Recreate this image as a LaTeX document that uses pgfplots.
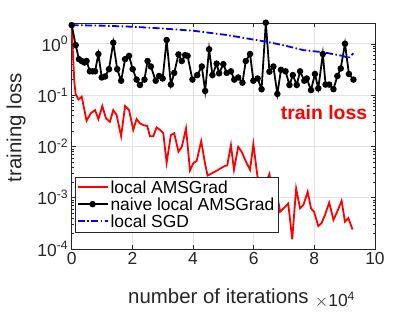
\documentclass[border=0pt]{standalone}
\usepackage{pgfplots}
\pgfplotsset{compat=1.18}
\usepackage{fontspec}
\setmainfont{Liberation Sans}
\definecolor{axgray}{gray}{0.15}
\begin{document}
\begin{tikzpicture}
\useasboundingbox (-71.7bp,-63bp) rectangle (343.3bp,249bp);
\begin{axis}[
  scale only axis,
  clip=false,
  width=303.3bp, height=225.7bp,
  ymode=log,
  xmin=0, xmax=10, ymin=1e-4, ymax=2.5,
  xtick={0,2,4,6,8,10},
  ytick={1e-4,1e-3,1e-2,1e-1,1},
  yticklabels={10\textsuperscript{-4},10\textsuperscript{-3},10\textsuperscript{-2},10\textsuperscript{-1},10\textsuperscript{0}},
  /pgf/number format/assume math mode=true,
  tick label style={font=\fontsize{17.5}{20}\selectfont, text=axgray},
  label style={font=\fontsize{20.5}{24}\selectfont, text=axgray},
  axis line style={axgray},
  every tick/.style={axgray},
  major tick length=4bp, minor tick length=2.2bp,
  grid=major,
  major grid style={gray!22, line width=0.5bp},
  xlabel={number of iterations},
  ylabel={training loss},
  xlabel style={at={(axis description cs:0.484,-0.208)}, anchor=center},
  ylabel style={at={(axis description cs:-0.1836,0.538)}, anchor=center},
  legend style={at={(rel axis cs:0.011,0.320)}, anchor=north west,
    font=\fontsize{17.5}{21}\selectfont, draw=axgray, fill=white,
    inner sep=1.5bp, row sep=-1bp},
  legend cell align=left,
  legend image code/.code={\draw[mark repeat=2,mark phase=2,#1,line width=1.8bp] plot coordinates {(0bp,0.5bp) (15bp,0.5bp) (30bp,0.5bp)};},
]
% local AMSGrad
\addplot[red, line width=1.8bp] coordinates {
(0,2.3) (0.04,0.65) (0.09,0.17) (0.13,0.105) (0.22,0.082) (0.33,0.093)
(0.49,0.0316) (0.63,0.044) (0.77,0.051) (0.88,0.034) (1.01,0.061) (1.13,0.035)
(1.26,0.030) (1.37,0.051) (1.48,0.041) (1.63,0.0158) (1.76,0.061) (1.89,0.051)
(2.03,0.021) (2.14,0.034) (2.25,0.028) (2.36,0.026) (2.49,0.0249) (2.58,0.0158)
(2.69,0.0158) (2.80,0.0234) (2.91,0.021) (3.02,0.018) (3.13,0.0048) (3.27,0.0166)
(3.38,0.018) (3.52,0.0079) (3.63,0.0098) (3.77,0.0224) (3.90,0.0034) (4.01,0.0047)
(4.12,0.0052) (4.27,0.0126) (4.40,0.0045) (4.48,0.0027) (4.72,0.0032) (5.00,0.0040)
(5.13,0.0043) (5.25,0.0106) (5.35,0.0035) (5.49,0.0098) (5.60,0.0079) (5.77,0.0047)
(5.88,0.0035) (5.99,0.0111) (6.12,0.0027) (6.25,0.0012) (6.38,0.0018) (6.52,0.0029)
(6.65,0.0009) (6.78,0.0011) (6.87,0.00053) (7.14,0.00077) (7.27,0.000155) (7.40,0.0015)
(7.53,0.00062) (7.64,0.00072) (7.78,0.0013) (7.89,0.00062) (7.99,0.00053) (8.13,0.00028)
(8.24,0.00032) (8.35,0.00046) (8.49,0.00080) (8.63,0.00037) (8.74,0.00051) (8.90,0.00087)
(9.01,0.00034) (9.12,0.00040) (9.26,0.00024)
};
\addlegendentry{local AMSGrad}
% naive local AMSGrad
\addplot[black, line width=1.8bp, mark=*, mark size=2.3bp] coordinates {
(0,2.3) (0.13,0.94) (0.24,0.50) (0.33,0.46) (0.42,0.43) (0.49,0.46) (0.60,0.29)
(0.69,0.29) (0.77,0.29) (0.88,0.63) (0.99,0.22) (1.10,0.23) (1.23,0.32) (1.37,1.05)
(1.50,0.32) (1.63,0.19) (1.76,0.50) (1.89,0.58) (2.01,0.32) (2.14,0.20) (2.25,0.157)
(2.40,0.20) (2.50,0.46) (2.61,0.36) (2.77,0.19) (2.88,0.235) (3.00,0.21) (3.13,1.18)
(3.27,0.16) (3.38,0.27) (3.52,0.62) (3.63,0.46) (3.74,0.60) (3.82,0.58) (3.98,0.20)
(4.14,0.245) (4.29,0.36) (4.40,0.12) (4.53,0.78) (4.64,0.245) (4.78,0.41) (4.86,0.265)
(5.00,0.40) (5.11,0.27) (5.25,0.29) (5.36,0.20) (5.49,0.22) (5.63,0.174) (5.74,0.46)
(5.88,0.63) (5.99,0.19) (6.13,0.21) (6.26,0.13) (6.40,2.57) (6.52,0.285) (6.65,0.36)
(6.78,0.105) (6.90,0.31) (7.05,0.29) (7.18,0.157) (7.29,0.245) (7.42,0.157) (7.53,0.29)
(7.67,0.19) (7.75,0.21) (7.89,0.125) (8.02,0.257) (8.13,0.135) (8.28,0.63) (8.37,0.16)
(8.49,0.16) (8.63,0.13) (8.76,0.235) (8.87,0.33) (9.01,1.0) (9.14,0.257) (9.29,0.20)
};
\addlegendentry{naive local AMSGrad}
% local SGD
\addplot[blue, line width=1.8bp, dash pattern=on 7bp off 2.5bp on 1.5bp off 2.5bp] coordinates {
(0,2.3) (1.0,2.25) (2.03,2.14) (3.0,1.98) (4.01,1.79) (5.11,1.48) (6.43,1.09)
(7.0,0.93) (7.64,0.75) (8.30,0.68) (8.96,0.575) (9.12,0.53) (9.29,0.65)
};
\addlegendentry{local SGD}
\node[anchor=east, text=red, font=\fontsize{19.5}{22}\selectfont\bfseries] at (rel axis cs:0.986,0.603) {train loss};
\node[anchor=center, text=axgray, font=\fontsize{17.5}{20}\selectfont] at (rel axis cs:0.868,-0.225) {$\times$10\textsuperscript{4}};
\end{axis}
\end{tikzpicture}
\end{document}
